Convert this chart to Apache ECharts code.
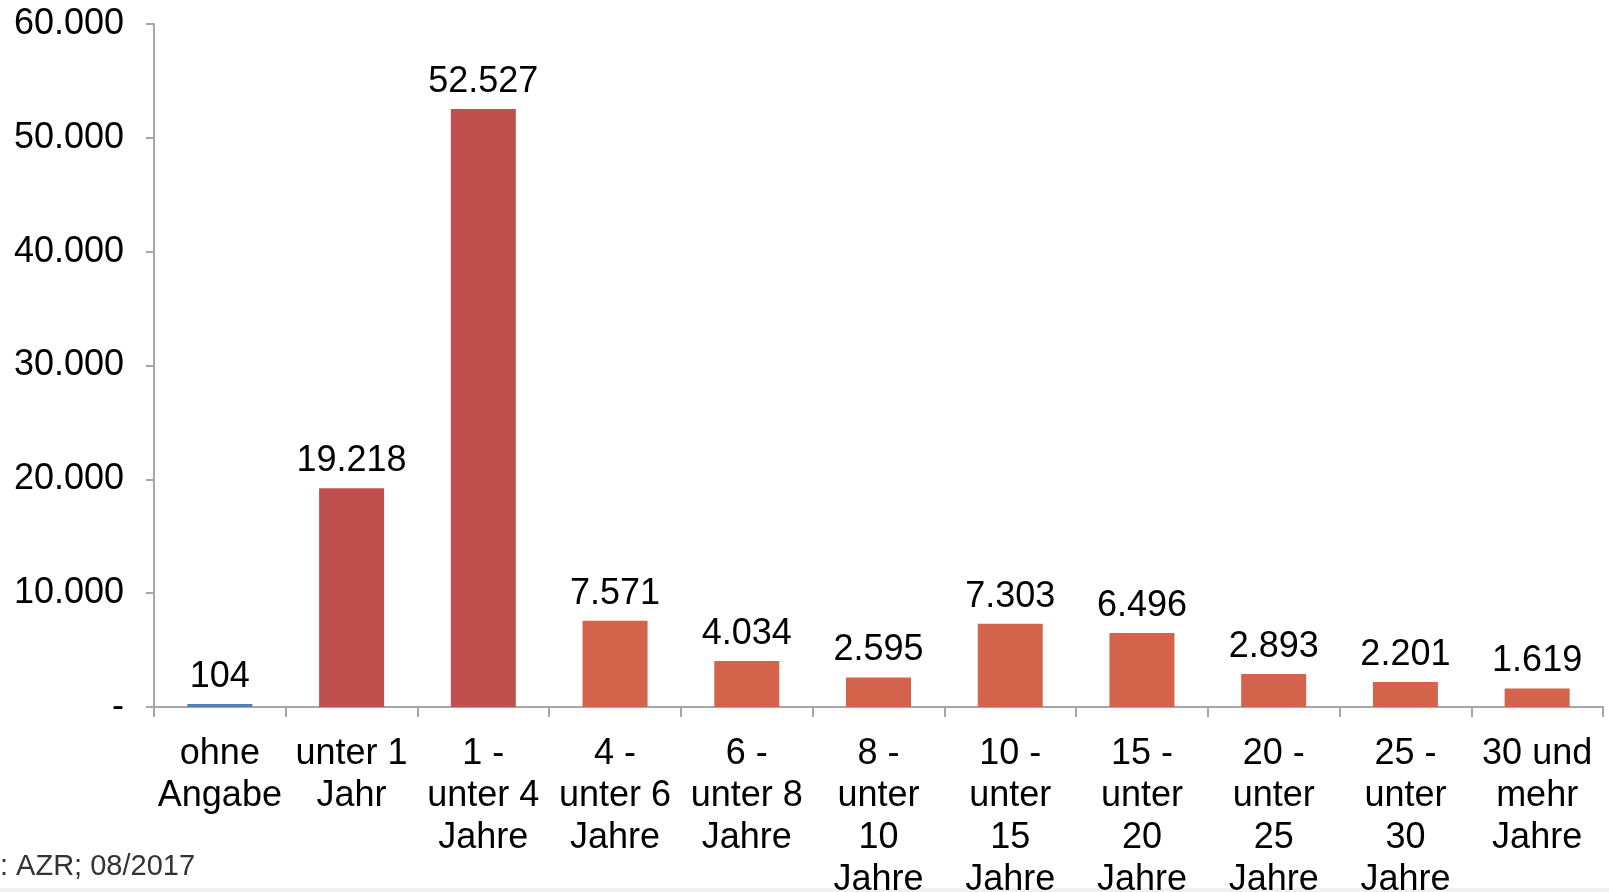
<!DOCTYPE html>
<html>
<head>
<meta charset="utf-8">
<script src="https://cdn.jsdelivr.net/npm/echarts@6/dist/echarts.min.js"></script>
<style>
html,body{margin:0;padding:0;background:#fff;}
#chart{width:1609px;height:892px;}
</style>
</head>
<body>
<div id="chart"></div>
<script>
const categories = ["ohne\nAngabe", "unter 1\nJahr", "1 -\nunter 4\nJahre", "4 -\nunter 6\nJahre", "6 -\nunter 8\nJahre", "8 -\nunter\n10\nJahre", "10 -\nunter\n15\nJahre", "15 -\nunter\n20\nJahre", "20 -\nunter\n25\nJahre", "25 -\nunter\n30\nJahre", "30 und\nmehr\nJahre"];
const values = [104, 19218, 52527, 7571, 4034, 2595, 7303, 6496, 2893, 2201, 1619];
const barColors = ["#4F81BD", "#C0504D", "#C0504D", "#D3634A", "#D3634A", "#D3634A", "#D3634A", "#D3634A", "#D3634A", "#D3634A", "#D3634A"];
const sourceText = ": AZR; 08/2017";

function fmt(v) {
  if (v === 0) return "-";
  return String(Math.round(v)).replace(/\B(?=(\d{3})+(?!\d))/g, ".");
}

const FF = "Liberation Sans, Arial, sans-serif";
const chart = echarts.init(document.getElementById('chart'));
chart.setOption({
  animation: false,
  textStyle: { fontFamily: FF },
  grid: { left: 154, right: 6, top: 24, bottom: 185, containLabel: false, outerBoundsMode: 'none' },
  xAxis: {
    type: 'category',
    data: categories,
    boundaryGap: true,
    axisLine: { lineStyle: { color: '#a6a6a6', width: 2 } },
    axisTick: { show: true, length: 10, lineStyle: { color: '#a6a6a6', width: 2 } },
    axisLabel: { interval: 0, margin: 26, color: '#000', fontSize: 36, lineHeight: 42, fontFamily: FF }
  },
  yAxis: {
    type: 'value',
    min: 0, max: 60000, interval: 10000,
    splitLine: { show: false },
    axisLine: { show: true, lineStyle: { color: '#a6a6a6', width: 2 } },
    axisTick: { show: true, length: 8, lineStyle: { color: '#a6a6a6', width: 2 } },
    axisLabel: { margin: 30, color: '#000', fontSize: 36, formatter: fmt, fontFamily: FF }
  },
  series: [{
    type: 'bar',
    data: values.map((v, i) => ({ value: v, itemStyle: { color: barColors[i] } })),
    barWidth: 65,
    barMinHeight: 3,
    label: {
      show: true, position: 'top', distance: 9,
      color: '#000', fontSize: 36, fontFamily: FF,
      formatter: p => fmt(p.value)
    }
  }],
  graphic: [
    { type: 'rect', left: 0, top: 888, shape: { width: 1609, height: 4 }, style: { fill: '#f0f0f0' } },
    { type: 'text', left: 0, top: 852, style: { text: sourceText, fontSize: 29, fill: '#333', fontFamily: FF } }
  ]
});
</script>
</body>
</html>
